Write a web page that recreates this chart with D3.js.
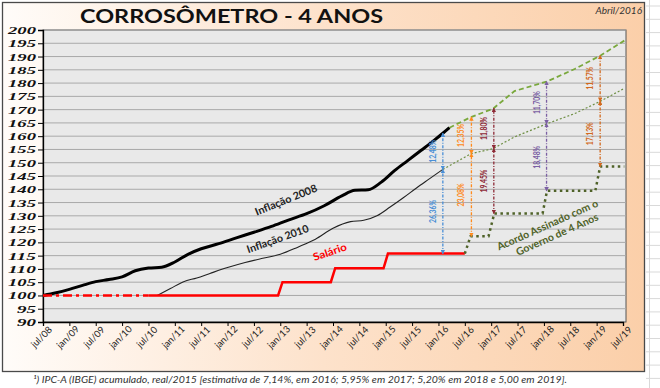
<!DOCTYPE html>
<html>
<head>
<meta charset="utf-8">
<script src="https://cdn.jsdelivr.net/npm/d3@7"></script>
<style>
  body { margin: 0; background: #fff; }
  svg { display: block; }
</style>
</head>
<body>
<svg id="chart" width="660" height="388"></svg>
<script>
// DATA: x is counted in months from jul/08
const xTickLabels = ["jul/08","jan/09","jul/09","jan/10","jul/10","jan/11","jul/11","jan/12","jul/12",
  "jan/13","jul/13","jan/14","jul/14","jan/15","jul/15","jan/16","jul/16","jan/17","jul/17",
  "jan/18","jul/18","jan/19","jul/19"];
const yTickValues = [90,95,100,105,110,115,120,125,130,135,140,145,150,155,160,165,170,175,180,185,190,195,200];

const inflacao2008 = [[0,100],[3,101],[6,102.3],[9,103.8],[12,105.2],[15,106],[18,107],[21,109.3],
  [24,110.3],[27,110.6],[30,112.6],[33,115.5],[36,117.6],[40,119.5],[44,121.7],[48,123.8],[52,126],
  [56,128.5],[60,130.8],[64,133.8],[68,137.5],[71,139.6],[74,139.8],[77,142.7],[80,147],[83,150.8],
  [86,154.6],[89,158.4],[91,161.1],[92.5,163.2]];
const inflacao2010 = [[26,100],[29,102.6],[32,105.2],[35,106.6],[38,108.3],[42,110.5],[46,112.4],
  [50,114],[54,115.5],[58,118.2],[62,121.2],[66,125.3],[70,127.8],[73,128.3],[76,130],[79,133.3],
  [82,136.8],[85,140.5],[88,144],[91,147.5]];
const salarioInicio = [[0,100],[24,100]];
const salario = [[24,100],[53.5,100],[54.5,105],[65.5,105],[66.5,110.25],[77.5,110.25],[78.5,115.76],[96,115.76]];
const salarioAcordo = [[96,115.76],[97.3,122.3],[101.4,122.3],[102.7,130.9],[113.7,130.9],[114.7,139.4],
  [125.7,139.4],[126.8,148.6],[132.3,148.6]];
const projecao2008 = [[92.5,163.2],[97.4,167.2],[102.4,170.3],[107.3,177],[114.7,180.6],[121,185.3],
  [126.9,190.4],[132.3,196]];
const projecao2010 = [[91,147.5],[97.4,153.4],[102.4,155.3],[107.3,159.7],[114.7,164.7],[121,168.5],
  [126.9,173.2],[132.3,178]];

// annotations (percent gaps)
const annMonths = [91, 97.5, 102.6, 114.6, 126.8];
const annSalario = [115.76, 122.3, 130.9, 139.4, 148.6];
const annInfl2010 = [147.5, 153.4, 155.3, 164.7, 173.2];
const annInfl2008 = [161.1, 167.2, 170.5, 180.6, 190.4];
const annPctLow = ["26,36%", "23,08%", "19,45%", "18,48%", "17,13%"];
const annPctHigh = ["12,48%", "12,35%", "11,80%", "11,70%", "11,57%"];
const annColors = ["#4a8fd6", "#ff8a1c", "#8e2a36", "#7b5fa3", "#d2691e"];

const svg = d3.select("#chart");

// background: excel cells on the right
const cells = svg.append("g").attr("stroke", "#d9d9d9").attr("stroke-width", 1);
for (let yy = 6; yy < 388; yy += 13.3) {
  cells.append("line").attr("x1", 646).attr("x2", 660).attr("y1", yy).attr("y2", yy);
}
cells.append("line").attr("x1", 649.5).attr("x2", 649.5).attr("y1", 0).attr("y2", 388);

// frame with gradient
const defs = svg.append("defs");
const grad = defs.append("linearGradient").attr("id", "bg").attr("x1", 0).attr("x2", 1).attr("y1", 0).attr("y2", 0);
grad.append("stop").attr("offset", "0%").attr("stop-color", "#fffcf9");
grad.append("stop").attr("offset", "50%").attr("stop-color", "#fde2cb");
grad.append("stop").attr("offset", "100%").attr("stop-color", "#fbcfa9");

svg.append("rect")
  .attr("x", 2.5).attr("y", 2.5).attr("width", 642).attr("height", 369)
  .attr("fill", "url(#bg)").attr("stroke", "#4a4a4a").attr("stroke-width", 1.3);

// title
svg.append("text")
  .attr("x", 80).attr("y", 22.5)
  .attr("textLength", 303).attr("lengthAdjust", "spacingAndGlyphs")
  .style("font-family", "Lato, sans-serif").style("font-weight", "bold").style("font-size", "19px")
  .attr("fill", "#111")
  .text("CORROSÔMETRO - 4 ANOS");

svg.append("text")
  .attr("x", 642).attr("y", 14).attr("text-anchor", "end")
  .style("font-family", "Lato, sans-serif").style("font-style", "italic").style("font-size", "10px")
  .attr("fill", "#333")
  .text("Abril/2016");

// scales
const x = d3.scaleLinear().domain([0, 132]).range([43, 623]);
const y = d3.scaleLinear().domain([90, 200]).range([322, 30]);

// plot area
svg.append("rect")
  .attr("x", 43).attr("y", 30).attr("width", 583).attr("height", 292)
  .attr("fill", "#e9e9e9").attr("stroke", "#555").attr("stroke-width", 1);

svg.append("g")
  .selectAll("line")
  .data(yTickValues.filter(d => d > 90))
  .join("line")
  .attr("x1", 43).attr("x2", 626)
  .attr("y1", d => y(d)).attr("y2", d => y(d))
  .attr("stroke", "#a9a9a9").attr("stroke-width", 1);

// axes
const yAxis = svg.append("g")
  .attr("transform", "translate(43,0)")
  .call(d3.axisLeft(y).tickValues(yTickValues).tickSize(5).tickPadding(2));
yAxis.select(".domain").attr("stroke", "#000").attr("stroke-width", 1.3);
yAxis.selectAll("text")
  .attr("textLength", d => d >= 100 ? 28 : 19).attr("lengthAdjust", "spacingAndGlyphs")
  .style("font-family", "'Liberation Serif', serif").style("font-weight", "bold")
  .style("font-style", "italic").style("font-size", "11px").attr("fill", "#111");

const xAxis = svg.append("g")
  .attr("transform", "translate(0,322)")
  .call(d3.axisBottom(x)
    .tickValues(d3.range(0, 133, 6))
    .tickFormat((d, i) => xTickLabels[i])
    .tickSize(4));
xAxis.select(".domain").attr("stroke", "#000").attr("stroke-width", 1.3);
xAxis.selectAll("text")
  .attr("x", 0).attr("y", 0).attr("dy", "0.35em")
  .attr("text-anchor", "middle")
  .attr("transform", "translate(-2,15) rotate(-45)")
  .style("font-family", "Lato, sans-serif").style("font-size", "9.5px").attr("fill", "#222");

// lines
const line = d3.line().x(d => x(d[0])).y(d => y(d[1]));

svg.append("path").datum(projecao2010).attr("d", line)
  .attr("fill", "none").attr("stroke", "#6f8f45").attr("stroke-width", 1.2).attr("stroke-dasharray", "2,2");
svg.append("path").datum(projecao2008).attr("d", line)
  .attr("fill", "none").attr("stroke", "#79a83c").attr("stroke-width", 1.8).attr("stroke-dasharray", "5,3");

svg.append("path").datum(inflacao2010).attr("d", line.curve(d3.curveMonotoneX))
  .attr("fill", "none").attr("stroke", "#222").attr("stroke-width", 1.1);
svg.append("path").datum(inflacao2008).attr("d", line)
  .attr("fill", "none").attr("stroke", "#000").attr("stroke-width", 3);
line.curve(d3.curveLinear);

svg.append("path").datum(salarioInicio).attr("d", line)
  .attr("fill", "none").attr("stroke", "#ff0000").attr("stroke-width", 2.5).attr("stroke-dasharray", "9,4,3,4");
svg.append("path").datum(salario).attr("d", line)
  .attr("fill", "none").attr("stroke", "#ff0000").attr("stroke-width", 2.5);
svg.append("path").datum(salarioAcordo).attr("d", line)
  .attr("fill", "none").attr("stroke", "#4f6228").attr("stroke-width", 2.5).attr("stroke-dasharray", "2.5,3.5");

// annotation arrows
annColors.forEach((c, i) => {
  defs.append("marker")
    .attr("id", "arr" + i)
    .attr("viewBox", "0 0 6 6").attr("refX", 5).attr("refY", 3)
    .attr("markerWidth", 4.5).attr("markerHeight", 4.5).attr("markerUnits", "userSpaceOnUse")
    .attr("orient", "auto-start-reverse")
    .append("path").attr("d", "M0,0 L6,3 L0,6 z").attr("fill", c);
});

const ann = svg.append("g");
annMonths.forEach((m, i) => {
  const segs = [[annSalario[i], annInfl2010[i], annPctLow[i]], [annInfl2010[i], annInfl2008[i], annPctHigh[i]]];
  segs.forEach(([v0, v1, pct]) => {
    ann.append("line")
      .attr("x1", x(m)).attr("x2", x(m))
      .attr("y1", y(v0)).attr("y2", y(v1))
      .attr("stroke", annColors[i]).attr("stroke-width", 1.3)
      .attr("stroke-dasharray", "3,1.5,1,1.5")
      .attr("marker-start", `url(#arr${i})`).attr("marker-end", `url(#arr${i})`);
    const cy = (y(v0) + y(v1)) / 2;
    ann.append("text")
      .attr("transform", `translate(${x(m) - 7},${cy}) rotate(-90)`)
      .attr("text-anchor", "middle")
      .attr("textLength", 23).attr("lengthAdjust", "spacingAndGlyphs")
      .style("font-family", "Lato, sans-serif").style("font-weight", "bold").style("font-size", "8.5px")
      .attr("fill", annColors[i])
      .text(pct);
  });
});

// series labels
function label(t, v, angle, txt, color, size, len) {
  return svg.append("text")
    .attr("transform", `translate(${x(t)},${y(v)}) rotate(${angle})`)
    .attr("text-anchor", "middle").attr("dy", "0.35em")
    .attr("textLength", len).attr("lengthAdjust", "spacingAndGlyphs")
    .style("font-family", "Lato, sans-serif").style("font-weight", "bold").style("font-size", size + "px")
    .attr("fill", color)
    .text(txt);
}
label(55.3, 136, -22, "Inflação 2008", "#222", 10.5, 66);
label(53.4, 121.3, -19.5, "Inflação 2010", "#222", 10.5, 65);
label(65.3, 116.4, -19, "Salário", "#ff0000", 10.5, 35);

const acordo = svg.append("text")
  .attr("transform", `translate(${x(115.8)},${y(124.7)}) rotate(-24)`)
  .attr("text-anchor", "middle")
  .style("font-family", "Lato, sans-serif").style("font-weight", "bold").style("font-size", "10.5px")
  .attr("fill", "#4f6228");
acordo.append("tspan").attr("x", -2).attr("dy", "-0.25em").text("Acordo Assinado com o");
acordo.append("tspan").attr("x", 3).attr("dy", "1.2em").text("Governo de 4 Anos");

// footnote
svg.append("text")
  .attr("x", 33).attr("y", 383)
  .attr("textLength", 534).attr("lengthAdjust", "spacingAndGlyphs")
  .style("font-family", "Lato, sans-serif").style("font-style", "italic").style("font-size", "9.5px")
  .attr("fill", "#333")
  .text("¹) IPC-A (IBGE) acumulado, real/2015 [estimativa de 7,14%, em 2016; 5,95% em 2017; 5,20% em 2018 e 5,00 em 2019].");
</script>
</body>
</html>
